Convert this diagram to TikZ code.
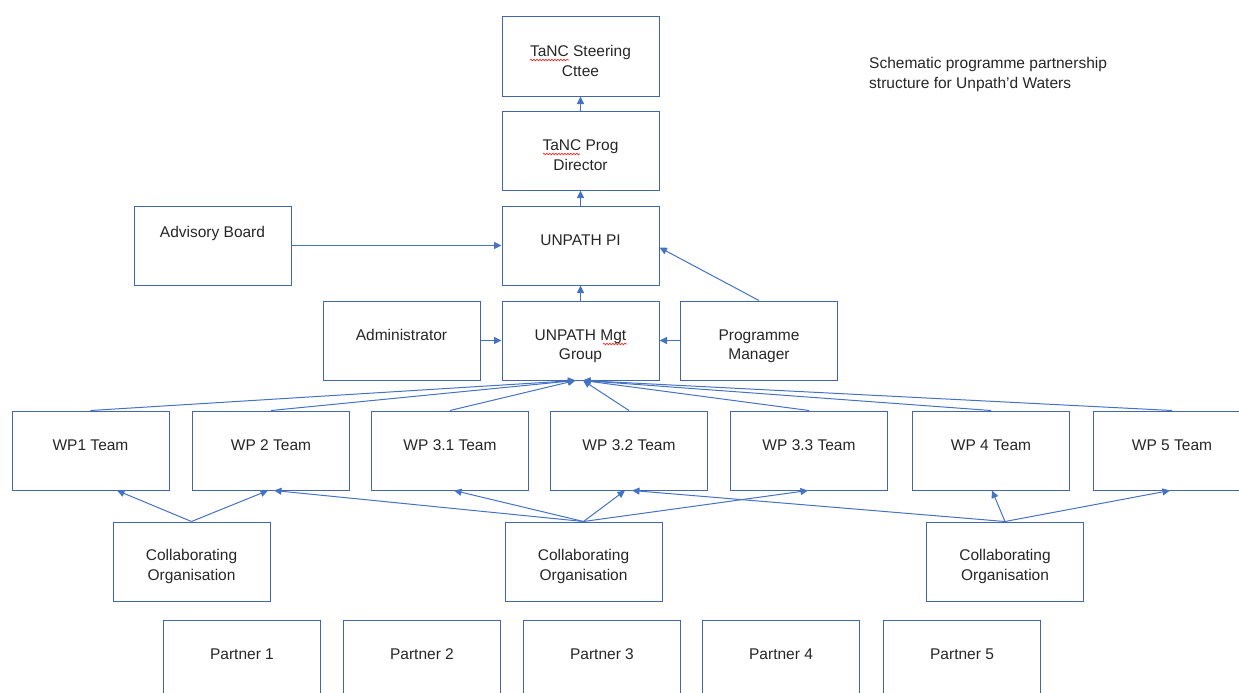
\documentclass[tikz,border=0pt]{standalone}
\usepackage{fontspec}
\setmainfont{Liberation Sans}
\usepackage{xcolor}
\usepackage{tikz}
\usetikzlibrary{arrows.meta}
\usetikzlibrary{decorations.pathmorphing}
\definecolor{boxblue}{HTML}{4266AD}
\definecolor{lineblue}{HTML}{4472C4}
\definecolor{spellred}{HTML}{E8302A}

\begin{document}
\begin{tikzpicture}
[
x=1pt, y=-1pt,
txt/.style={anchor=north,inner sep=0pt,align=center,text=black!85,font=\fontsize{15.5}{19.5}\selectfont,execute at begin node={\vphantom{d2}}},
box/.style 2 args={draw=boxblue,line width=1pt,minimum width=157pt,minimum height=79pt,inner sep=0pt,label={[txt,yshift=-#1]north:{#2}}},
conn/.style={draw=lineblue,line width=1pt,-{Triangle[length=7.5pt,width=7pt]}},
spell/.style={draw=spellred,line width=0.7pt,decoration={snake,segment length=3pt,amplitude=0.8pt},decorate},
]
\useasboundingbox (0,0) rectangle (1239,693);
\clip (0,0) rectangle (1239,693);

%Place the nodes
%top column
\node[box={29pt}{TaNC Steering\\Cttee}] (steer) at (580.5,56.5) {};
\node[box={29pt}{TaNC Prog\\Director}] (dir) at (580.5,150.5) {};
\node[box={29pt}{UNPATH PI}] (pi) at (580.5,245.5) {};
\node[box={29pt}{UNPATH Mgt\\Group}] (mgt) at (580.5,340.5) {};
\node[box={21pt}{Advisory Board}] (adv) at (212.5,245.5) {};
\node[box={29pt}{Administrator}] (admin) at (401.5,340.5) {};
\node[box={29pt}{Programme\\Manager}] (pm) at (759,340.5) {};
%work packages
\node[box={29pt}{WP1 Team}] (wp1) at (90.5,450.5) {};
\node[box={29pt}{WP 2 Team}] (wp2) at (271,450.5) {};
\node[box={29pt}{WP 3.1 Team}] (wp31) at (450,450.5) {};
\node[box={29pt}{WP 3.2 Team}] (wp32) at (629,450.5) {};
\node[box={29pt}{WP 3.3 Team}] (wp33) at (809,450.5) {};
\node[box={29pt}{WP 4 Team}] (wp4) at (991,450.5) {};
\node[box={29pt}{WP 5 Team}] (wp5) at (1172,450.5) {};
%collaborating organisations
\node[box={28pt}{Collaborating\\Organisation}] (co1) at (191.5,561.5) {};
\node[box={28pt}{Collaborating\\Organisation}] (co2) at (583.5,561.5) {};
\node[box={28pt}{Collaborating\\Organisation}] (co3) at (1005,561.5) {};
%partners
\node[box={29pt}{Partner 1}] (p1) at (242,659.5) {};
\node[box={29pt}{Partner 2}] (p2) at (422,659.5) {};
\node[box={29pt}{Partner 3}] (p3) at (602,659.5) {};
\node[box={29pt}{Partner 4}] (p4) at (781,659.5) {};
\node[box={29pt}{Partner 5}] (p5) at (962,659.5) {};
%caption
\node[txt,anchor=north west,align=left] (title) at (869,57.5) {Schematic programme partnership\\structure for Unpath’d Waters};

%connections
%chain to the steering cttee
\draw[conn] (dir) to (steer);
\draw[conn] (pi) to (dir);
\draw[conn] (mgt) to (pi);
\draw[conn] (adv) to (pi);
\draw[conn] (pm.north) to ([yshift=-2pt]pi.east);
\draw[conn] (admin) to (mgt);
\draw[conn] (pm) to (mgt);
%teams up to mgt group
\draw[conn] (wp1.north) to ([xshift=-5pt]mgt.south);
\draw[conn] (wp2.north) to ([xshift=-5pt]mgt.south);
\draw[conn] (wp31.north) to ([xshift=-5pt]mgt.south);
\draw[conn] (wp32.north) to ([xshift=2.5pt]mgt.south);
\draw[conn] (wp33.north) to ([xshift=2.5pt]mgt.south);
\draw[conn] (wp4.north) to ([xshift=2.5pt]mgt.south);
\draw[conn] (wp5.north) to ([xshift=2.5pt]mgt.south);
%organisations up to teams
\draw[conn] (co1.north) to ([xshift=26.5pt]wp1.south);
\draw[conn] (co1.north) to ([xshift=-3pt]wp2.south);
\draw[conn] (co2.north) to ([xshift=3pt]wp2.south);
\draw[conn] (co2.north) to ([xshift=4pt]wp31.south);
\draw[conn] (co2.north) to ([xshift=-4pt]wp32.south);
\draw[conn] (co2.north) to ([xshift=-1pt]wp33.south);
\draw[conn] (co3.north) to ([xshift=3pt]wp32.south);
\draw[conn] (co3.north) to ([xshift=1pt]wp4.south);
\draw[conn] (co3.north) to ([xshift=-2pt]wp5.south);

%spelling marks
\draw[spell] (530,60) -- (569,60);
\draw[spell] (543,154) -- (580,154);
\draw[spell] (603,344) -- (627,344);
\end{tikzpicture}
\end{document}
